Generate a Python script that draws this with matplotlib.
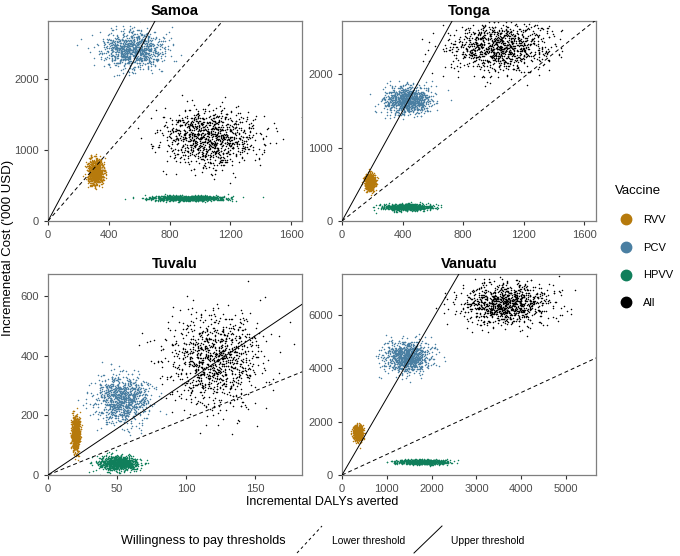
import matplotlib.pyplot as plt
from matplotlib.lines import Line2D
import numpy as np

plt.rcParams['font.family'] = ['Liberation Sans', 'DejaVu Sans']

# panel order and axis limits
countries = ["Samoa", "Tonga", "Tuvalu", "Vanuatu"]
x_max = [1672, 1679, 184, 5670]
y_max = [2817, 2721, 674, 7540]
x_ticks = [[0, 400, 800, 1200, 1600], [0, 400, 800, 1200, 1600],
           [0, 50, 100, 150], [0, 1000, 2000, 3000, 4000, 5000]]
y_ticks = [[0, 1000, 2000], [0, 1000, 2000],
           [0, 200, 400, 600], [0, 2000, 4000, 6000]]

# willingness to pay slopes ('000 USD per DALY)
lower_wtp = [2.45, 1.63, 1.88, 0.774]
upper_wtp = [4.0, 3.74, 3.11, 2.89]

vaccines = ["RVV", "PCV", "HPVV", "All"]
colors = ["#B67A0C", "#4A7FA2", "#107F5B", "#000000"]

# summary of the PSA clouds: (mean, sd) per country
rvv_dalys = [(315, 26), (185, 15), (20, 1.5), (357, 50)]
rvv_cost = [(690, 85), (530, 50), (140, 28), (1575, 130)]
pcv_dalys = [(560, 100), (430, 75), (54, 10), (1450, 240)]
pcv_cost = [(2410, 130), (1650, 90), (255, 40), (4420, 280)]
hpvv_dalys = [(930, 120), (430, 75), (51, 7), (1810, 270)]
hpvv_cost = [(322, 18), (190, 22), (40, 12), (490, 40)]
all_dalys = [(1070, 160), (1040, 165), (121, 17), (3680, 470)]
all_cost = [(1180, 210), (2370, 170), (385, 75), (6450, 390)]

dalys = [rvv_dalys, pcv_dalys, hpvv_dalys, all_dalys]
costs = [rvv_cost, pcv_cost, hpvv_cost, all_cost]
n_sims = 1000

rng = np.random.default_rng(7)

fig = plt.figure(figsize=(6.8, 5.56), dpi=100)
positions = [[0.0706, 0.6025, 0.3735, 0.3597], [0.503, 0.6025, 0.3735, 0.3597],
             [0.0706, 0.1457, 0.3735, 0.3615], [0.503, 0.1457, 0.3735, 0.3615]]

for i, country in enumerate(countries):
    ax = fig.add_axes(positions[i])
    for v in range(len(vaccines)):
        mx, sx = dalys[v][i]
        my, sy = costs[v][i]
        xs = rng.normal(mx, sx, n_sims)
        ys = rng.normal(my, sy, n_sims)
        ax.scatter(xs, ys, s=1.2, color=colors[v], linewidths=0, zorder=2)
    xx = np.array([0, x_max[i]])
    ax.plot(xx, xx * lower_wtp[i], color="black", lw=0.7, ls=(0, (4, 3)), zorder=3)
    ax.plot(xx, xx * upper_wtp[i], color="black", lw=0.7, zorder=3)
    ax.set_xlim(0, x_max[i])
    ax.set_ylim(0, y_max[i])
    ax.set_xticks(x_ticks[i])
    ax.set_yticks(y_ticks[i])
    ax.tick_params(labelsize=8, colors="#4D4D4D", length=3, width=0.8)
    ax.tick_params(axis="both", labelcolor="#4D4D4D", color="#333333")
    for s in ax.spines.values():
        s.set_color("#7F7F7F")
        s.set_linewidth(0.9)
    ax.set_title(country, fontsize=10.5, fontweight="bold", pad=4)

fig.text(0.474, 0.097, "Incremental DALYs averted", ha="center", va="center", fontsize=9)
fig.text(0.012, 0.554, "Incremenetal Cost ('000 USD)", rotation=90,
         ha="center", va="center", fontsize=9.5)

# vaccine legend
handles = [Line2D([], [], marker="o", ls="", color=c, markersize=7.5) for c in colors]
fig.legend(handles, vaccines, title="Vaccine", loc="upper left",
           bbox_to_anchor=(0.889, 0.685), frameon=False, fontsize=8,
           title_fontsize=9.5, labelspacing=1.6, handletextpad=0.6,
           alignment="left")

# threshold legend, drawn by hand so the keys are diagonal like ggplot's abline keys
fig.text(121 / 680, 1 - 541 / 556, "Willingness to pay thresholds",
         ha="left", va="center", fontsize=9.1)
key_y = [1 - 553 / 556, 1 - 526 / 556]
fig.add_artist(Line2D([297 / 680, 322 / 680], key_y, color="black", lw=0.7,
                      ls=(0, (3, 3)), transform=fig.transFigure))
fig.text(332 / 680, 1 - 541 / 556, "Lower threshold", ha="left", va="center", fontsize=7.4)
fig.add_artist(Line2D([414 / 680, 442 / 680], key_y, color="black", lw=0.7,
                      transform=fig.transFigure))
fig.text(451 / 680, 1 - 541 / 556, "Upper threshold", ha="left", va="center", fontsize=7.4)

fig.savefig("out.png", dpi=100)
